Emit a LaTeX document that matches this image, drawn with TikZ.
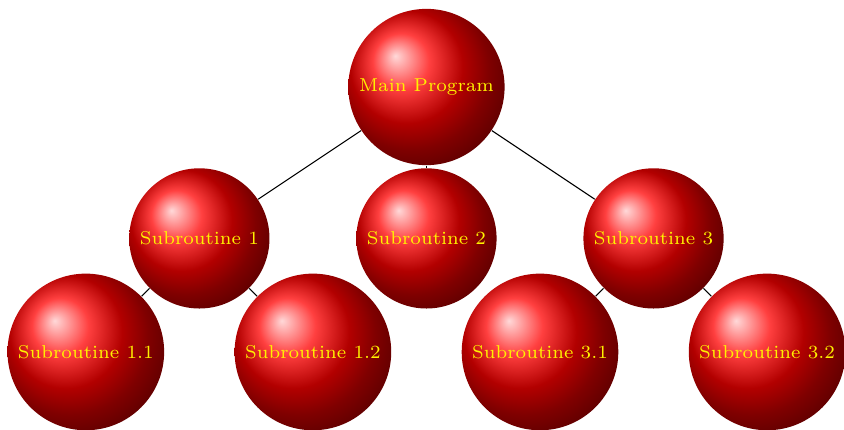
\documentclass[tikz,border=0pt]{standalone}
\usetikzlibrary{shadings}
\begin{document}
\begin{tikzpicture}[
  ball/.style={circle, ball color=red, text=yellow, font=\scriptsize, inner sep=3.333pt},
  link/.style={draw=black, line width=0.4pt}
]
\useasboundingbox (-160.3pt,-128.6pt) rectangle (156.95pt,32.7pt);
\node[ball] (main) at (0,0) {Main Program};
\node[ball] (s1) at (-3,-2) {Subroutine 1};
\node[ball] (s2) at (0,-2) {Subroutine 2};
\node[ball] (s3) at (3,-2) {Subroutine 3};
\node[ball] (s11) at (-4.5,-3.5) {Subroutine 1.1};
\node[ball] (s12) at (-1.5,-3.5) {Subroutine 1.2};
\node[ball] (s31) at (1.5,-3.5) {Subroutine 3.1};
\node[ball] (s32) at (4.5,-3.5) {Subroutine 3.2};
\draw[link] (main) -- (s1);
\draw[link] (main) -- (s2);
\draw[link] (main) -- (s3);
\draw[link] (s1) -- (s11);
\draw[link] (s1) -- (s12);
\draw[link] (s3) -- (s31);
\draw[link] (s3) -- (s32);
\end{tikzpicture}
\end{document}
